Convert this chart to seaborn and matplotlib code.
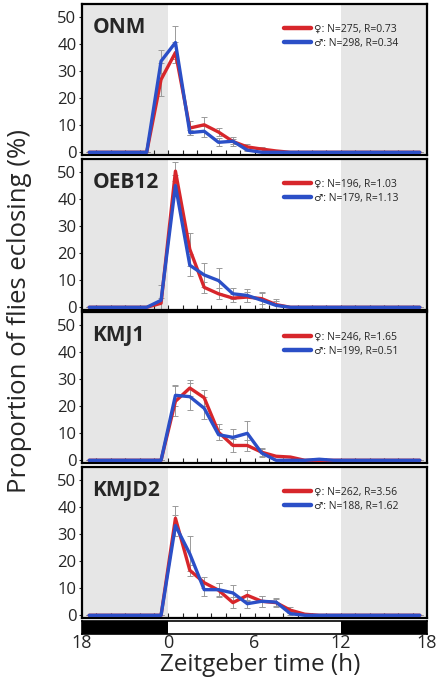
import numpy as np
import matplotlib
matplotlib.use('Agg')
import matplotlib.pyplot as plt
import seaborn as sns
import pandas as pd

# hour bins (ZT, centre of each 1 h bin)
hours = [-5.5, -4.5, -3.5, -2.5, -1.5, -0.5, 0.5, 1.5, 2.5, 3.5, 4.5, 5.5,
         6.5, 7.5, 8.5, 9.5, 10.5, 11.5, 12.5, 13.5, 14.5, 15.5, 16.5, 17.5]

strains = ['ONM', 'OEB12', 'KMJ1', 'KMJD2']

# proportion eclosing (%) per bin
onm_f = [0, 0, 0, 0, 0, 27, 37, 9, 10.2, 7.5, 4, 2, 1.2, 0.5, 0, 0, 0, 0, 0, 0, 0, 0, 0, 0]
onm_m = [0, 0, 0, 0, 0, 33.8, 40.7, 7.3, 7.8, 3.7, 4.1, 0.8, 0, 0, 0, 0, 0, 0, 0, 0, 0, 0, 0, 0]
oeb_f = [0, 0, 0, 0, 0, 1.5, 50.5, 21.5, 7.4, 5, 3.4, 3.8, 3.2, 1, 0, 0, 0, 0, 0, 0, 0, 0, 0, 0]
oeb_m = [0, 0, 0, 0, 0, 2.6, 45.2, 15.6, 12, 9.9, 5, 4.4, 2.6, 0.7, 0, 0, 0, 0, 0, 0, 0, 0, 0, 0]
kmj_f = [0, 0, 0, 0, 0, 0, 21.9, 26.8, 23.2, 10.4, 5.5, 5.5, 3, 1.5, 1.2, 0, 0, 0, 0, 0, 0, 0, 0, 0]
kmj_m = [0, 0, 0, 0, 0, 0, 24.1, 23.6, 19.3, 9.5, 8.5, 10, 2.7, 0, 0, 0, 0.4, 0, 0, 0, 0, 0, 0, 0]
kmjd_f = [0, 0, 0, 0, 0, 0, 36, 16.7, 12.1, 9.3, 4.7, 7.4, 5.2, 4.7, 1.9, 0.4, 0, 0, 0, 0, 0, 0, 0, 0]
kmjd_m = [0, 0, 0, 0, 0, 0, 33.3, 22.8, 9.5, 9.5, 8.3, 4.3, 5.2, 4.9, 0.6, 0, 0, 0, 0, 0, 0, 0, 0, 0]

# error bars
onm_f_err = [0, 0, 0, 0, 0, 6, 4, 2.5, 2.8, 1.5, 1.7, 1, 0.8, 0.5, 0, 0, 0, 0, 0, 0, 0, 0, 0, 0]
onm_m_err = [0, 0, 0, 0, 0, 4.3, 6, 1, 2, 1.5, 1, 0.5, 0, 0, 0, 0, 0, 0, 0, 0, 0, 0, 0, 0]
oeb_f_err = [0, 0, 0, 0, 0, 2, 3.5, 6, 2, 2, 1.5, 2, 2, 2, 0, 0, 0, 0, 0, 0, 0, 0, 0, 0]
oeb_m_err = [0, 0, 0, 0, 0, 5.5, 4, 4, 4.5, 4.5, 2, 2.5, 3, 1.5, 0, 0, 0, 0, 0, 0, 0, 0, 0, 0]
kmj_f_err = [0, 0, 0, 0, 0, 0, 5.5, 3, 3, 3, 2.5, 2, 1.5, 0, 0, 0, 0, 0, 0, 0, 0, 0, 0, 0]
kmj_m_err = [0, 0, 0, 0, 0, 0, 4, 5, 4, 2, 3, 4.5, 1.5, 0, 0, 0, 0, 0, 0, 0, 0, 0, 0, 0]
kmjd_f_err = [0, 0, 0, 0, 0, 0, 4.5, 2, 2, 2.5, 2, 2, 2, 1.5, 1, 0, 0, 0, 0, 0, 0, 0, 0, 0]
kmjd_m_err = [0, 0, 0, 0, 0, 0, 4, 6.5, 2.5, 2.5, 3, 1.5, 2, 1.5, 0.5, 0, 0, 0, 0, 0, 0, 0, 0, 0]

female_lab = ['\u2640: N=275, R=0.73', '\u2640: N=196, R=1.03', '\u2640: N=246, R=1.65', '\u2640: N=262, R=3.56']
male_lab = ['\u2642: N=298, R=0.34', '\u2642: N=179, R=1.13', '\u2642: N=199, R=0.51', '\u2642: N=188, R=1.62']

females = [onm_f, oeb_f, kmj_f, kmjd_f]
males = [onm_m, oeb_m, kmj_m, kmjd_m]
f_errs = [onm_f_err, oeb_f_err, kmj_f_err, kmjd_f_err]
m_errs = [onm_m_err, oeb_m_err, kmj_m_err, kmjd_m_err]

bar_ticks = [-6, 0, 6, 12, 18]
bar_labels = ['18', '0', '6', '12', '18']

sns.set_style('white')
plt.rcParams['font.family'] = ['Open Sans', 'DejaVu Sans']

red = '#d7262b'
blue = '#2b4fc7'
shade = '#e6e6e6'

fig = plt.figure(figsize=(4.41, 6.83), dpi=100)
W, H = 441.0, 683.0
left = 82 / W
width = 345 / W
tops = [4, 159, 312, 467]
ph = 151

for i in range(4):
    ax = fig.add_axes([left, 1 - (tops[i] + ph) / H, width, ph / H])
    ax.axvspan(-6, 0, color=shade, lw=0, zorder=0)
    ax.axvspan(12, 18, color=shade, lw=0, zorder=0)

    df = pd.DataFrame({
        'ZT': hours * 2,
        'pct': females[i] + males[i],
        'sex': [female_lab[i]] * len(hours) + [male_lab[i]] * len(hours),
    })
    ax.errorbar(hours, females[i], yerr=f_errs[i], fmt='none', ecolor='#9a9a9a',
                elinewidth=0.7, capsize=2.2, capthick=0.7, zorder=2)
    ax.errorbar(hours, males[i], yerr=m_errs[i], fmt='none', ecolor='#9a9a9a',
                elinewidth=0.7, capsize=2.2, capthick=0.7, zorder=2)
    sns.lineplot(data=df, x='ZT', y='pct', hue='sex', palette=[red, blue],
                 linewidth=2.4, ax=ax, zorder=3, legend=True)

    ax.set_xlim(-6, 18)
    ax.set_ylim(-1, 55)
    ax.set_yticks([0, 10, 20, 30, 40, 50])
    ax.set_xticks(np.arange(-5, 18, 1))
    ax.set_xticklabels([])
    ax.tick_params(axis='x', direction='in', length=3.5, width=0.8, bottom=True, color='#222222')
    ax.tick_params(axis='y', direction='out', length=2, width=0.8, left=True, labelsize=12, pad=2)
    ax.set_xlabel('')
    ax.set_ylabel('')
    for sp in ax.spines.values():
        sp.set_linewidth(1.6)
        sp.set_color('black')

    ax.text(0.03, 0.845, strains[i], transform=ax.transAxes, fontsize=15,
            fontweight='bold', va='center', ha='left')

    leg = ax.legend(loc='upper left', bbox_to_anchor=(0.585, 0.87), frameon=False,
                    fontsize=7.5, handlelength=2.6, handletextpad=0.3,
                    labelspacing=0.3, borderpad=0, borderaxespad=0)
    for ln in leg.get_lines():
        ln.set_linewidth(3.2)

# light/dark bar
bax = fig.add_axes([left, 1 - 634 / H, width, 13 / H])
bax.axvspan(-6, 0, color='black', lw=0)
bax.axvspan(12, 18, color='black', lw=0)
bax.set_xlim(-6, 18)
bax.set_ylim(0, 1)
bax.set_yticks([])
bax.set_xticks(bar_ticks)
bax.set_xticklabels(bar_labels)
bax.tick_params(axis='x', length=0, labelsize=13, pad=0)
for sp in bax.spines.values():
    sp.set_linewidth(1.2)
    sp.set_color('black')

fig.text(0.59, 0.026, 'Zeitgeber time (h)', fontsize=17.5, ha='center', va='center')
fig.text(0.045, 0.545, 'Proportion of flies eclosing (%)', fontsize=18.5,
         rotation=90, ha='center', va='center')

fig.savefig('out.png', dpi=100)
